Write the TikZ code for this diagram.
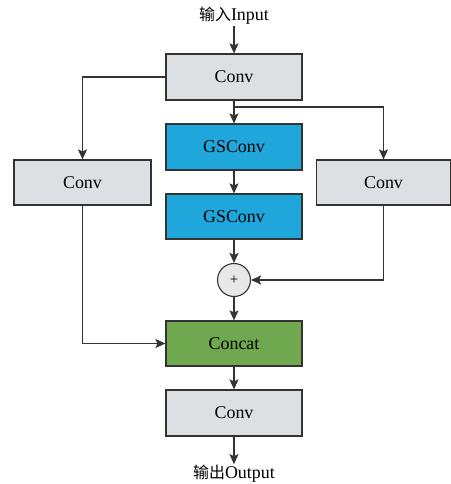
\documentclass[tikz,border=0pt]{standalone}
\usepackage{fontspec}
\setmainfont{Liberation Serif}
\newfontfamily\cjk{Noto Sans CJK SC}
\usetikzlibrary{arrows.meta}
\definecolor{boxgray}{HTML}{DCE0E3}
\definecolor{gsblue}{HTML}{1FA7DC}
\definecolor{catgreen}{HTML}{6FA84F}
\definecolor{circgray}{HTML}{E8E8E8}
\definecolor{linec}{HTML}{333333}
\begin{document}
\begin{tikzpicture}[x=1bp,y=-1bp,
  blk/.style={draw=linec,line width=1.2pt,minimum width=136bp,minimum height=46bp,inner sep=0pt,font=\fontsize{18}{21}\selectfont},
  conv/.style={blk,fill=boxgray},
  gs/.style={blk,fill=gsblue},
  cat/.style={blk,fill=catgreen},
  lbl/.style={inner sep=1pt,font=\fontsize{18}{21}\selectfont},
  conn/.style={draw=linec,line width=1.3pt,-{Stealth[length=10bp,width=9bp,inset=2bp]}},
  plain/.style={draw=linec,line width=1.3pt}]
\useasboundingbox (0,0) rectangle (451,484);
\node[lbl] (in) at (234,16) {{\cjk\fontsize{16}{19}\selectfont 输入}Input};
\node[conv] (c1) at (234,77) {Conv};
\node[conv,minimum width=137bp,minimum height=45bp] (lc) at (82.5,182.5) {Conv};
\node[conv,minimum width=134bp,minimum height=45bp] (rc) at (383.5,182.5) {Conv};
\node[gs] (g1) at (234,147) {GSConv};
\node[gs,minimum height=45bp] (g2) at (234,216.5) {GSConv};
\node[circle,draw=linec,line width=1.1pt,fill=circgray,minimum size=33bp,inner sep=0pt,font=\fontsize{15}{15}\selectfont] (p) at (234,280) {+};
\node[cat,minimum height=45bp] (cc) at (234,343.5) {Concat};
\node[conv] (c2) at (234,413) {Conv};
\node[lbl] (out) at (234,474) {{\cjk\fontsize{16}{19}\selectfont 输出}Output};
\coordinate (split) at (234,107);
\draw[conn] (in.south) -- (c1.north);
\draw[conn] (c1.west) -| (lc.north);
\draw[conn] (c1.south) -- (g1.north);
\draw[conn] (split) -| (rc.north);
\draw[conn] (g1.south) -- (g2.north);
\draw[conn] (g2.south) -- (p.north);
\draw[conn] (rc.south) |- (p.east);
\draw[conn] (p.south) -- (cc.north);
\draw[conn] (lc.south) |- (cc.west);
\draw[conn] (cc.south) -- (c2.north);
\draw[conn] (c2.south) -- (out.north);
\end{tikzpicture}
\end{document}
